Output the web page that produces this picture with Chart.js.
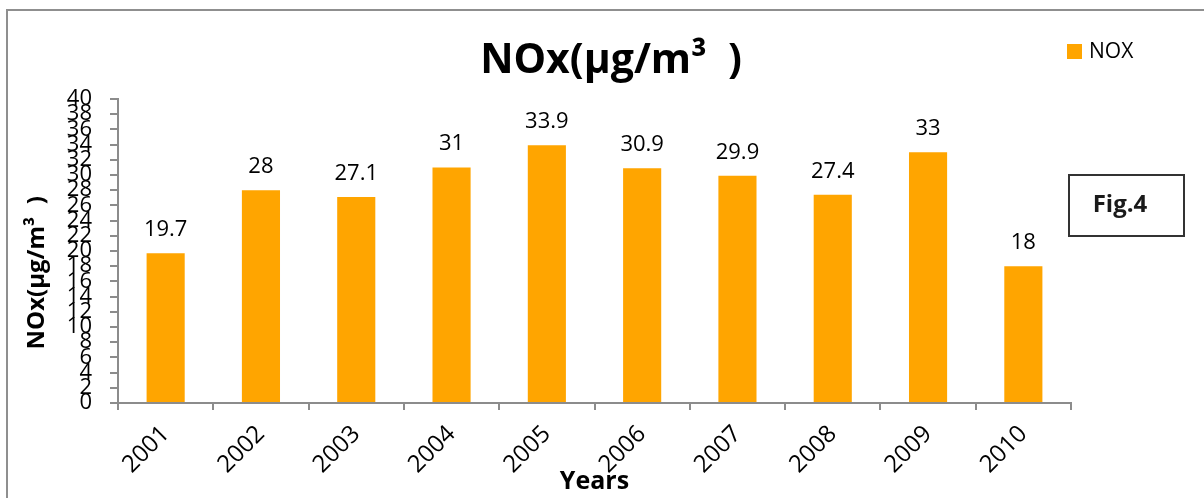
<!DOCTYPE html>
<html>
<head>
<meta charset="utf-8">
<title>NOx (µg/m³) 2001–2010</title>
<script src="https://cdn.jsdelivr.net/npm/chart.js@4.4.1/dist/chart.umd.min.js"></script>
<style>
  html, body { margin: 0; padding: 0; background: #ffffff; }
  #wrap { position: relative; width: 1204px; height: 498px; }
</style>
</head>
<body>
<div id="wrap"><canvas id="chart" width="1204" height="498"></canvas></div>
<script>
// Annual mean NOx concentrations
const years = ['2001', '2002', '2003', '2004', '2005', '2006', '2007', '2008', '2009', '2010'];
const noxValues = [19.7, 28, 27.1, 31, 33.9, 30.9, 29.9, 27.4, 33, 18];
const seriesName = 'NOX';
const chartTitle = 'NOx(µg/m³  )';
const yAxisTitle = 'NOx(µg/m³  )       ';
const xAxisTitle = 'Years';
const figureTag = 'Fig.4';

const FONT = '"Open Sans", "DejaVu Sans", sans-serif';
const BAR_COLOR = '#FFA500';
const AXIS_COLOR = '#8c8c8c';

// Grey frame around the whole figure
const framePlugin = {
  id: 'frame',
  beforeDraw(chart) {
    const ctx = chart.ctx;
    ctx.save();
    ctx.fillStyle = '#ffffff';
    ctx.fillRect(0, 0, chart.width, chart.height);
    ctx.strokeStyle = '#8f8f8f';
    ctx.lineWidth = 2;
    ctx.strokeRect(7, 10, chart.width + 20, chart.height + 20);
    ctx.restore();
  }
};

// Let the main title centre across the whole figure, not just the plot column
const titleSpanPlugin = {
  id: 'titleSpan',
  afterLayout(chart) {
    const t = chart.titleBlock;
    if (!t) return;
    t.left = 18;
    t.right = chart.width;
    t.width = t.right - t.left;
  }
};

// Value written above each bar
const valueLabelPlugin = {
  id: 'valueLabels',
  afterDatasetsDraw(chart) {
    const ctx = chart.ctx;
    ctx.save();
    ctx.font = '22px ' + FONT;
    ctx.fillStyle = '#000000';
    ctx.textAlign = 'center';
    ctx.textBaseline = 'alphabetic';
    chart.data.datasets.forEach((ds, di) => {
      const meta = chart.getDatasetMeta(di);
      meta.data.forEach((bar, i) => {
        ctx.fillText(String(ds.data[i]), bar.x, bar.y - 17);
      });
    });
    ctx.restore();
  }
};

// Series key in the upper right and the figure tag box
const sideNotesPlugin = {
  id: 'sideNotes',
  afterDraw(chart) {
    const ctx = chart.ctx;
    const ds = chart.data.datasets[0];
    ctx.save();
    ctx.fillStyle = ds.backgroundColor;
    ctx.fillRect(1067, 44, 15, 15);
    ctx.fillStyle = '#000000';
    ctx.font = '21px ' + FONT;
    ctx.textAlign = 'left';
    ctx.textBaseline = 'middle';
    ctx.fillText(ds.label, 1089, 52);

    ctx.filter = 'blur(0.4px)';
    ctx.strokeStyle = '#333333';
    ctx.lineWidth = 2;
    ctx.strokeRect(1069, 175, 115, 61);
    ctx.font = 'bold 24px ' + FONT;
    ctx.fillStyle = '#1a1a1a';
    ctx.textAlign = 'center';
    ctx.fillText(figureTag, 1120, 205);
    ctx.restore();
  }
};

new Chart(document.getElementById('chart'), {
  type: 'bar',
  data: {
    labels: years,
    datasets: [{
      label: seriesName,
      data: noxValues,
      backgroundColor: BAR_COLOR,
      borderWidth: 0,
      barPercentage: 0.4,
      categoryPercentage: 1.0
    }]
  },
  options: {
    responsive: false,
    devicePixelRatio: 1,
    animation: false,
    layout: { padding: { left: 8, right: 133, top: 10, bottom: 0 } },
    plugins: {
      legend: { display: false },
      tooltip: { enabled: false },
      title: {
        display: true,
        text: chartTitle,
        color: '#000000',
        font: { family: FONT, size: 41, weight: 'bold', lineHeight: 1.2 },
        padding: { top: 27, bottom: 12.8 }
      }
    },
    scales: {
      x: {
        grid: {
          display: true,
          offset: true,
          drawOnChartArea: false,
          drawTicks: true,
          tickLength: 7,
          color: AXIS_COLOR,
          lineWidth: 2
        },
        border: { display: true, color: AXIS_COLOR, width: 2 },
        ticks: {
          autoSkip: false,
          minRotation: 45,
          maxRotation: 45,
          padding: 10,
          color: '#000000',
          font: { family: FONT, size: 24 }
        },
        title: {
          display: true,
          text: xAxisTitle,
          color: '#000000',
          font: { family: FONT, size: 25, weight: 'bold', lineHeight: 1.2 },
          padding: { top: 0, bottom: 1 }
        },
        afterFit(scale) { scale.height = 95; }
      },
      y: {
        min: 0,
        max: 40,
        grid: {
          display: true,
          drawOnChartArea: false,
          drawTicks: true,
          tickLength: 8,
          color: AXIS_COLOR,
          lineWidth: 2
        },
        border: { display: true, color: AXIS_COLOR, width: 2 },
        ticks: {
          stepSize: 2,
          autoSkip: false,
          padding: 18,
          color: '#000000',
          font: { family: FONT, size: 22, lineHeight: 1 }
        },
        title: {
          display: true,
          text: yAxisTitle,
          color: '#000000',
          font: { family: FONT, size: 24, weight: 'bold', lineHeight: 1.2 },
          padding: { top: 15, bottom: 0 }
        },
        afterFit(scale) { scale.width = 110; }
      }
    }
  },
  plugins: [framePlugin, titleSpanPlugin, valueLabelPlugin, sideNotesPlugin]
});
</script>
</body>
</html>
